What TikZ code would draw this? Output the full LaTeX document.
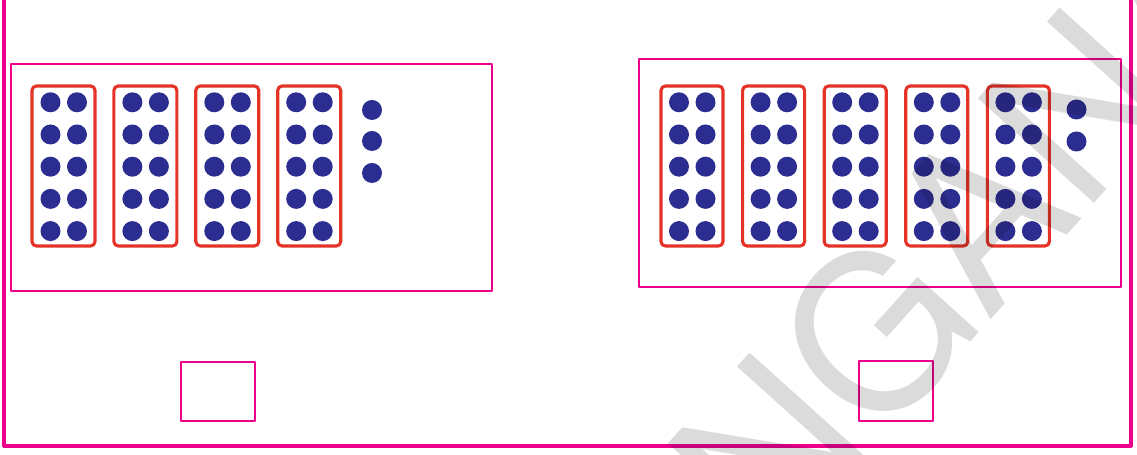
\documentclass[tikz,border=0pt]{standalone}
\usepackage{fontspec}
\newfontfamily\markfont{TeX Gyre Heros}
\definecolor{pinkline}{RGB}{236,0,140}
\definecolor{barred}{RGB}{228,52,40}
\definecolor{dotblue}{RGB}{44,45,145}
\begin{document}
\begin{tikzpicture}[line join=round,
		pinkbox/.style={draw=pinkline,line width=1.4pt},
		redbar/.style={draw=barred,line width=1.8pt,rounded corners=2.5pt},
		bluedot/.style={fill=dotblue}]
	\useasboundingbox (0,0) rectangle (22.74,9.1);
	\clip (0,0) rectangle (22.74,9.1);
	
	\draw[pinkbox,line width=1.8pt] (0.08,9.5) -- (0.08,0.18) -- (22.62,0.18) -- (22.62,9.5);
	\draw[pinkbox] (0.22,3.28) rectangle (9.84,7.82);
	\draw[pinkbox,line width=1.1pt] (12.78,3.36) rectangle (22.42,7.92);
	\draw[pinkbox] (3.62,0.68) rectangle (5.10,1.86);
	\draw[pinkbox] (17.18,0.68) rectangle (18.66,1.88);
	
	\foreach \i in {0,...,3} {
		\draw[redbar] ({0.64+1.638*\i},4.18) rectangle ++(1.26,3.2);
		\foreach \r in {0,...,4} {
			\fill[bluedot] ({0.64+1.638*\i+0.37},{7.054-0.644*\r}) circle (0.2);
			\fill[bluedot] ({0.64+1.638*\i+0.9},{7.054-0.644*\r}) circle (0.2);
		}
	}
	\foreach \y in {6.9,6.28,5.64}
		\fill[bluedot] (7.44,\y) circle (0.2);
	
	\foreach \i in {0,...,4} {
		\draw[redbar] ({13.22+1.632*\i},4.18) rectangle ++(1.24,3.2);
		\foreach \r in {0,...,4} {
			\fill[bluedot] ({13.22+1.632*\i+0.36},{7.054-0.644*\r}) circle (0.2);
			\fill[bluedot] ({13.22+1.632*\i+0.89},{7.054-0.644*\r}) circle (0.2);
		}
	}
	\foreach \y in {6.91,6.27}
		\fill[bluedot] (21.53,\y) circle (0.2);
	
	\node[rotate=48,text=black,text opacity=0.14,inner sep=0pt,font=\markfont\fontsize{122}{122}\selectfont] (wmark) at (15.78,0.57) {TELANGANA};
\end{tikzpicture}
\end{document}
